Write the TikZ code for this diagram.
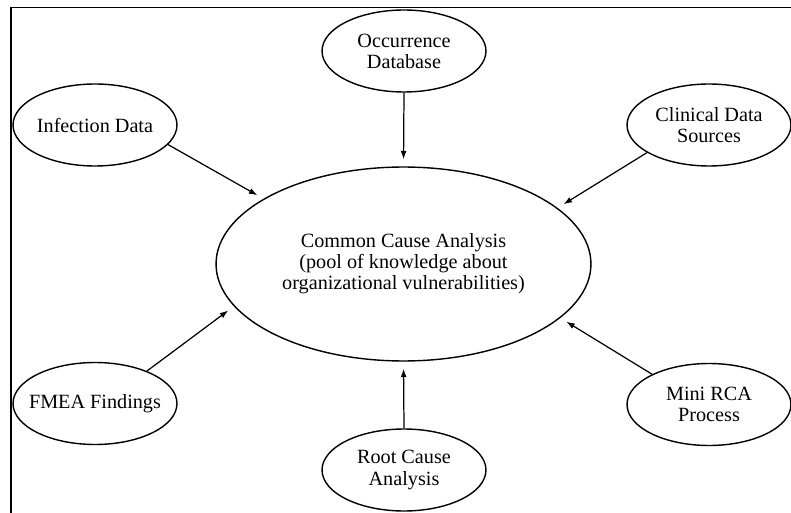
\documentclass[tikz,border=0pt]{standalone}
\usepackage{fontspec}
\setmainfont{Liberation Serif}
\usetikzlibrary{shapes.geometric,arrows.meta}

\begin{document}
\begin{tikzpicture}[x=0.02cm,y=-0.02cm,
  source/.style={ellipse, draw, line width=0.8pt, minimum width=3.28cm,
    minimum height=1.64cm, inner xsep=-3mm, inner ysep=0pt, align=center,
    font=\fontsize{11.5}{12}\selectfont},
  hub/.style={source, minimum width=7.5cm, minimum height=3.88cm},
  feed/.style={-{Latex[length=1.7mm,width=1.2mm]}, line width=0.7pt, shorten >=1.4mm}]

\useasboundingbox (0,0) rectangle (791,513);

% Frame (left and top edges)
\draw[line width=1.1pt] (11,513) -- (11,7.5) -- (791,7.5);

% Central ellipse
\node[hub] (cca) at (403.5,264) {Common Cause Analysis\\(pool of knowledge about\\organizational vulnerabilities)};

% Sources around it
\node[source] (occ)  at (404,51)    {Occurrence\\Database};
\node[source] (inf)  at (95,125)    {Infection Data};
\node[source] (clin) at (709,125)   {Clinical Data\\Sources};
\node[source] (fmea) at (95,403.5)  {FMEA Findings};
\node[source] (mini) at (709,404.5) {Mini RCA\\Process};
\node[source] (rca)  at (404,470)   {Root Cause\\Analysis};

% Arrows into the pool
\draw[feed] (inf.-15.5)   -- (cca.155.7);
\draw[feed] (occ.south)   -- (cca.north);
\draw[feed] (clin.204.3)  -- (cca.20.6);
\draw[feed] (fmea.32.9)   -- (cca.194.8);
\draw[feed] (rca.north)   -- (cca.south);
\draw[feed] (mini.152.2)  -- (cca.-19.6);
\end{tikzpicture}
\end{document}
